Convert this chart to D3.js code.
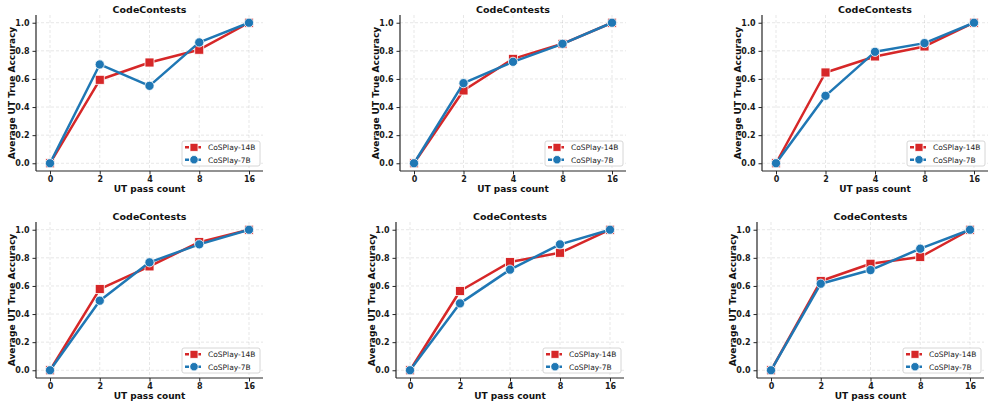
<!DOCTYPE html>
<html>
<head>
<meta charset="utf-8">
<script src="https://cdn.jsdelivr.net/npm/d3@7"></script>
<style>
  body { margin: 0; background: #fff; }
  text { font-family: "DejaVu Sans", sans-serif; }
</style>
</head>
<body>
<div id="chart"></div>
<script>
// Data
const passCounts = ['0', '2', '4', '8', '16'];
const yTicks = [0, 0.2, 0.4, 0.6, 0.8, 1.0];
const seriesNames = ['CoSPlay-14B', 'CoSPlay-7B'];
const panelTitles = ['CodeContests', 'CodeContests', 'CodeContests', 'CodeContests', 'CodeContests', 'CodeContests'];

const red1 = [0, 0.594, 0.717, 0.808, 1.0];
const blue1 = [0, 0.703, 0.551, 0.860, 1.0];
const red2 = [0, 0.518, 0.743, 0.850, 1.0];
const blue2 = [0, 0.570, 0.722, 0.850, 1.0];
const red3 = [0, 0.646, 0.760, 0.831, 1.0];
const blue3 = [0, 0.480, 0.793, 0.855, 1.0];
const red4 = [0, 0.578, 0.739, 0.912, 1.0];
const blue4 = [0, 0.495, 0.768, 0.896, 1.0];
const red5 = [0, 0.564, 0.770, 0.836, 1.0];
const blue5 = [0, 0.476, 0.716, 0.896, 1.0];
const red6 = [0, 0.635, 0.758, 0.806, 1.0];
const blue6 = [0, 0.616, 0.713, 0.865, 1.0];

const panels = [
  { red: red1, blue: blue1, left: 36, right: 263, top: 15, bottom: 171 },
  { red: red2, blue: blue2, left: 400, right: 626, top: 15, bottom: 171 },
  { red: red3, blue: blue3, left: 762, right: 988, top: 15, bottom: 171 },
  { red: red4, blue: blue4, left: 36, right: 263, top: 222, bottom: 378 },
  { red: red5, blue: blue5, left: 396, right: 624, top: 222, bottom: 378 },
  { red: red6, blue: blue6, left: 757, right: 984, top: 222, bottom: 378 }
];

const RED = '#d62728';
const BLUE = '#1f77b4';
const AXIS = '#262626';

const svg = d3.select('#chart')
  .append('svg')
  .attr('width', 996)
  .attr('height', 406);

panels.forEach((p, i) => {
  const g = svg.append('g');

  const x = d3.scalePoint()
    .domain(passCounts)
    .range([p.left + 14, p.right - 14]);

  const y = d3.scaleLinear()
    .domain([-0.055, 1.055])
    .range([p.bottom, p.top]);

  // Grid
  const grid = g.append('g')
    .attr('stroke', '#b0b0b0')
    .attr('stroke-opacity', 0.5)
    .attr('stroke-width', 0.6)
    .attr('stroke-dasharray', '3,2');
  grid.selectAll('line.gy')
    .data(yTicks)
    .join('line')
    .attr('x1', p.left).attr('x2', p.right)
    .attr('y1', d => y(d)).attr('y2', d => y(d));
  grid.selectAll('line.gx')
    .data(passCounts)
    .join('line')
    .attr('x1', d => x(d)).attr('x2', d => x(d))
    .attr('y1', p.top).attr('y2', p.bottom);

  // Axes
  const yAxis = g.append('g')
    .attr('transform', `translate(${p.left},0)`)
    .call(d3.axisLeft(y).tickValues(yTicks).tickFormat(d3.format('.1f')).tickSize(3.5).tickPadding(3));
  const xAxis = g.append('g')
    .attr('transform', `translate(0,${p.bottom})`)
    .call(d3.axisBottom(x).tickSize(3.5).tickPadding(2));

  [xAxis, yAxis].forEach(a => {
    a.select('.domain').attr('stroke', AXIS).attr('stroke-width', 1.2);
    a.selectAll('.tick line').attr('stroke', AXIS).attr('stroke-width', 1);
    a.selectAll('.tick text')
      .attr('fill', '#1a1a1a')
      .style('font-size', '8px')
      .style('font-weight', 'bold');
  });
  // plain spines, no outer tick stubs
  yAxis.select('.domain').attr('d', `M0,${p.top}V${p.bottom}`);
  xAxis.select('.domain').attr('d', `M${p.left},0H${p.right}`);

  // Labels
  g.append('text')
    .attr('x', (p.left + p.right) / 2)
    .attr('y', p.top - 2)
    .attr('text-anchor', 'middle')
    .style('font-size', '9.5px')
    .style('font-weight', 'bold')
    .attr('fill', '#111')
    .text(panelTitles[i]);

  g.append('text')
    .attr('x', (p.left + p.right) / 2)
    .attr('y', p.bottom + 21)
    .attr('text-anchor', 'middle')
    .style('font-size', '9px')
    .style('font-weight', 'bold')
    .attr('fill', '#111')
    .text('UT pass count');

  g.append('text')
    .attr('transform', `translate(${p.left - 21},${(p.top + p.bottom) / 2}) rotate(-90)`)
    .attr('text-anchor', 'middle')
    .style('font-size', '9px')
    .style('font-weight', 'bold')
    .attr('fill', '#111')
    .text('Average UT True Accuracy');

  // Lines
  const line = d3.line()
    .x((d, j) => x(passCounts[j]))
    .y(d => y(d));

  const series = [
    { vals: p.red, color: RED, shape: 'square' },
    { vals: p.blue, color: BLUE, shape: 'circle' }
  ];

  series.forEach(s => {
    g.append('path')
      .datum(s.vals)
      .attr('fill', 'none')
      .attr('stroke', s.color)
      .attr('stroke-width', 2.5)
      .attr('stroke-linejoin', 'round')
      .attr('d', line);

    if (s.shape === 'square') {
      g.selectAll(null)
        .data(s.vals)
        .join('rect')
        .attr('x', (d, j) => x(passCounts[j]) - 4.5)
        .attr('y', d => y(d) - 4.5)
        .attr('width', 9)
        .attr('height', 9)
        .attr('fill', s.color)
        .attr('stroke', '#fff')
        .attr('stroke-width', 0.8);
    } else {
      g.selectAll(null)
        .data(s.vals)
        .join('circle')
        .attr('cx', (d, j) => x(passCounts[j]))
        .attr('cy', d => y(d))
        .attr('r', 4.6)
        .attr('fill', s.color)
        .attr('stroke', '#fff')
        .attr('stroke-width', 0.8);
    }
  });

  // Legend
  const lw = 78, lh = 25;
  const lx = p.right - 3 - lw, ly = p.bottom - 5 - lh;
  const leg = g.append('g').attr('transform', `translate(${lx},${ly})`);
  leg.append('rect')
    .attr('width', lw).attr('height', lh)
    .attr('rx', 2)
    .attr('fill', '#fff')
    .attr('fill-opacity', 0.85)
    .attr('stroke', '#cccccc')
    .attr('stroke-width', 0.8);

  series.forEach((s, k) => {
    const cy = 6.3 + k * 12.4;
    leg.append('line')
      .attr('x1', 3).attr('x2', 21)
      .attr('y1', cy).attr('y2', cy)
      .attr('stroke', s.color)
      .attr('stroke-width', 2.5)
      .attr('stroke-dasharray', '4,2');
    if (s.shape === 'square') {
      leg.append('rect')
        .attr('x', 12 - 4).attr('y', cy - 4)
        .attr('width', 8).attr('height', 8)
        .attr('fill', s.color)
        .attr('stroke', '#fff').attr('stroke-width', 0.8);
    } else {
      leg.append('circle')
        .attr('cx', 12).attr('cy', cy)
        .attr('r', 4.2)
        .attr('fill', s.color)
        .attr('stroke', '#fff').attr('stroke-width', 0.8);
    }
    leg.append('text')
      .attr('x', 26).attr('y', cy + 2.8)
      .style('font-size', '7.5px')
      .attr('fill', '#222')
      .text(seriesNames[k]);
  });
});
</script>
</body>
</html>
